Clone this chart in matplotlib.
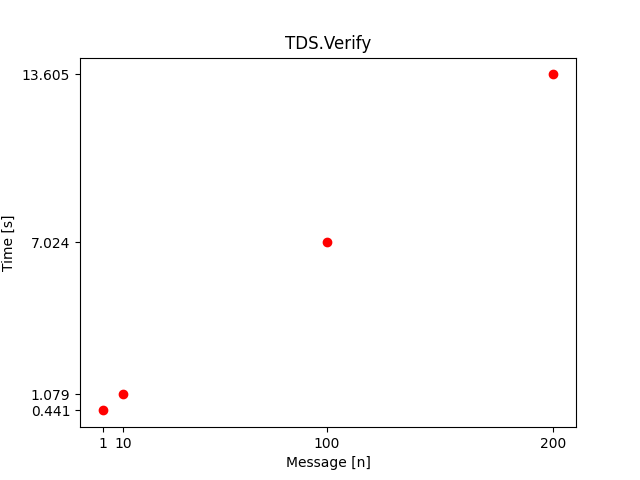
import matplotlib
matplotlib.use("Agg")
import matplotlib.pyplot as plt

messages = [1, 10, 100, 200]
times = [0.441, 1.079, 7.024, 13.605]
tick_labels_y = ["0.441", "1.079", "7.024", "13.605"]

fig, ax = plt.subplots(figsize=(6.4, 4.8), dpi=100)
ax.plot(messages, times, "ro")
ax.set_xticks(messages)
ax.set_yticks(times)
ax.set_yticklabels(tick_labels_y)
ax.set_title("TDS.Verify")
ax.set_xlabel("Message [n]")
ax.set_ylabel("Time [s]")
fig.savefig("out.png")
